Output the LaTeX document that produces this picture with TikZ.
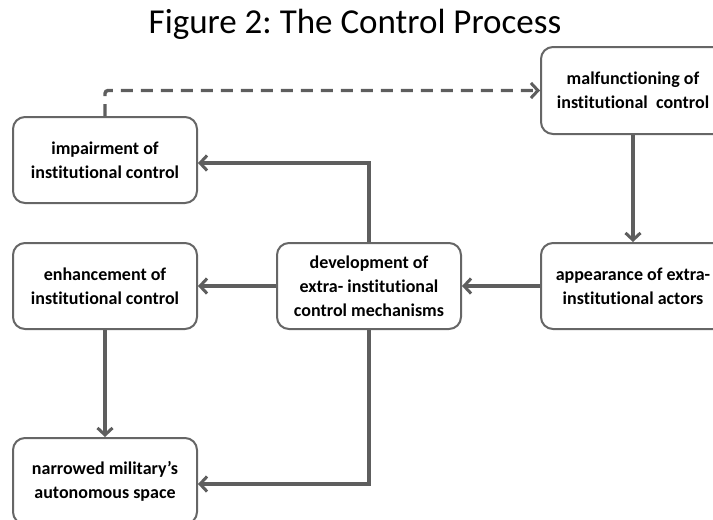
\documentclass[tikz,border=0pt]{standalone}
\usepackage{fontspec}
\setmainfont[Ligatures={NoCommon}]{Carlito}
\frenchspacing
\usetikzlibrary{arrows.meta}
\definecolor{linegray}{HTML}{5E5E5E}
\definecolor{boxgray}{HTML}{666666}
\tikzset{
  procbox/.style={draw=boxgray, line width=2pt, rounded corners=12pt, fill=white,
    minimum width=184pt, minimum height=86pt, inner sep=0pt, align=center,
    font=\fontsize{18}{24}\selectfont\bfseries, text=black},
  flow/.style={draw=linegray, line width=3.4pt, -{Straight Barb[length=7pt,width=15pt,line width=3pt]}},
  dashflow/.style={flow, dash pattern=on 12pt off 8pt, rounded corners=3pt}
}
\begin{document}
\begin{tikzpicture}[x=1pt,y=-1pt]
\useasboundingbox (0,0) rectangle (713,520);
\clip (0,0) rectangle (713,520);
\node[font=\fontsize{35}{40}\selectfont] (title) at (355,24) {Figure 2: The Control Process};
\node[procbox] (imp) at (105,160) {impairment of\\institutional control};
\node[procbox, minimum height=87pt] (mal) at (633,90.5) {malfunctioning of\\institutional\ \ control};
\node[procbox] (enh) at (105,286) {enhancement of\\institutional control};
\node[procbox] (dev) at (369,286) {development of\\extra- institutional\\control mechanisms};
\node[procbox] (app) at (633,286) {appearance of extra-\\institutional actors};
\node[procbox] (nar) at (105,481) {narrowed military’s\\autonomous space};
\draw[dashflow] (imp.north) |- (mal.west);
\draw[flow] (dev.north) |- ([yshift=-3pt]imp.east);
\draw[flow] (mal.south) -- (app.north);
\draw[flow] (app.west) -- (dev.east);
\draw[flow] (dev.west) -- (enh.east);
\draw[flow] (enh.south) -- (nar.north);
\draw[flow] (dev.south) |- ([yshift=-3pt]nar.east);
\end{tikzpicture}
\end{document}
